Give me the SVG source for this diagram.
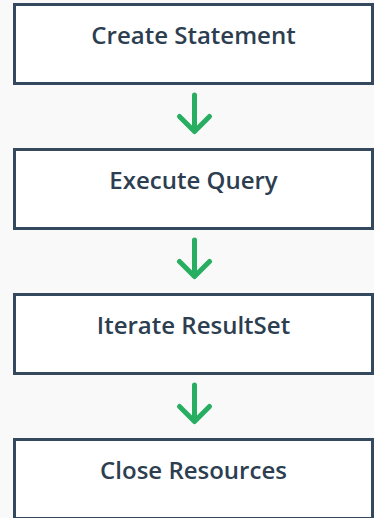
<svg xmlns="http://www.w3.org/2000/svg" width="374" height="518" viewBox="0 0 374 518">
  <style>
    .box { fill: #ffffff; stroke: #34495e; stroke-width: 3; }
    .label { font-family: "Open Sans", "Noto Sans", sans-serif; font-weight: 600; font-size: 24px; fill: #2c3e50; text-anchor: middle; }
    .arrow { fill: none; stroke: #27ae60; stroke-width: 5; stroke-linecap: round; stroke-linejoin: round; }
  </style>
  <rect x="0" y="0" width="374" height="518" fill="#f9f9f9"/>
  <g id="connectors">
    <path class="arrow" d="M194.5 95 V131 M179.5 116.5 L194.5 131.5 L209.5 116.5"/>
    <path class="arrow" d="M194.5 240 V276 M179.5 261.5 L194.5 276.5 L209.5 261.5"/>
    <path class="arrow" d="M194.5 385 V421 M179.5 406.5 L194.5 421.5 L209.5 406.5"/>
  </g>
  <g id="create-statement">
    <rect class="box" x="14.5" y="4.5" width="358" height="79"/>
    <text class="label" x="193.5" y="44">Create Statement</text>
  </g>
  <g id="execute-query">
    <rect class="box" x="14.5" y="149.5" width="358" height="79"/>
    <text class="label" x="193.5" y="189">Execute Query</text>
  </g>
  <g id="iterate-resultset">
    <rect class="box" x="14.5" y="294.5" width="358" height="79"/>
    <text class="label" x="193.5" y="334">Iterate ResultSet</text>
  </g>
  <g id="close-resources">
    <rect class="box" x="14.5" y="439.5" width="358" height="79"/>
    <text class="label" x="193.5" y="479">Close Resources</text>
  </g>
</svg>
